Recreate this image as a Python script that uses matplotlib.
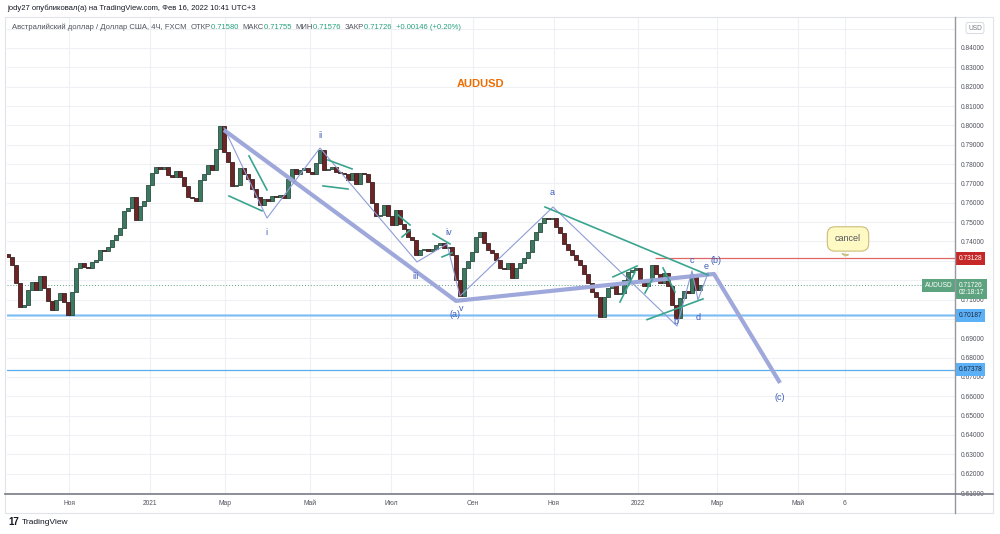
import numpy as np
import matplotlib
matplotlib.use('Agg')
import matplotlib.pyplot as plt
from matplotlib.patches import Rectangle
from matplotlib.lines import Line2D

plt.rcParams['font.family'] = ['Liberation Sans', 'DejaVu Sans']

# AUDUSD closes (one value per ~2 trading days, Oct 2020 .. Feb 16 2022)
first_open = 0.7335
close = [0.7320, 0.7279, 0.7186, 0.7062, 0.7072, 0.7149, 0.7191, 0.7149, 0.7222, 0.7160,
         0.7093, 0.7046, 0.7098, 0.7134, 0.7087, 0.7020, 0.7139, 0.7263, 0.7289, 0.7268,
         0.7263, 0.7294, 0.7304, 0.7356, 0.7351, 0.7372, 0.7408, 0.7434, 0.7470, 0.7558,
         0.7573, 0.7630, 0.7511, 0.7583, 0.7609, 0.7692, 0.7754, 0.7785, 0.7775, 0.7785,
         0.7744, 0.7733, 0.7764, 0.7733, 0.7687, 0.7630, 0.7625, 0.7609, 0.7718, 0.7749,
         0.7795, 0.7770, 0.7878, 0.7997, 0.7863, 0.7811, 0.7687, 0.7692, 0.7780, 0.7749,
         0.7723, 0.7671, 0.7630, 0.7589, 0.7620, 0.7609, 0.7635, 0.7630, 0.7640, 0.7625,
         0.7723, 0.7775, 0.7749, 0.7770, 0.7780, 0.7759, 0.7749, 0.7806, 0.7873, 0.7770,
         0.7775, 0.7785, 0.7759, 0.7754, 0.7749, 0.7718, 0.7754, 0.7697, 0.7754, 0.7749,
         0.7707, 0.7599, 0.7532, 0.7537, 0.7589, 0.7532, 0.7485, 0.7563, 0.7490, 0.7465,
         0.7423, 0.7408, 0.7330, 0.7356, 0.7361, 0.7351, 0.7361, 0.7382, 0.7392, 0.7366,
         0.7372, 0.7330, 0.7201, 0.7118, 0.7263, 0.7299, 0.7346, 0.7423, 0.7449, 0.7392,
         0.7356, 0.7341, 0.7304, 0.7263, 0.7258, 0.7289, 0.7211, 0.7263, 0.7289, 0.7315,
         0.7346, 0.7408, 0.7449, 0.7496, 0.7521, 0.7516, 0.7521, 0.7475, 0.7444, 0.7387,
         0.7356, 0.7330, 0.7304, 0.7279, 0.7232, 0.7186, 0.7139, 0.7113, 0.7010, 0.7113,
         0.7160, 0.7175, 0.7129, 0.7134, 0.7201, 0.7242, 0.7253, 0.7263, 0.7201, 0.7170,
         0.7206, 0.7279, 0.7232, 0.7186, 0.7237, 0.7170, 0.7072, 0.7005, 0.7108, 0.7144,
         0.7134, 0.7217, 0.7149, 0.71726]

month_pos = [15.25, 35.5, 54.25, 75.5, 95.75, 116.25, 136.5, 157.5, 177.25, 197.5, 209.25]
month_lbl = ['Ноя', '2021', 'Мар', 'Май', 'Июл', 'Сен', 'Ноя', '2022', 'Мар', 'Май', '6']

# Elliott wave drawings (bar index, price)
big_x = [54, 112, 176.5, 193]
big_y = [0.7976, 0.7093, 0.7232, 0.6669]
wave_x = [54, 64.75, 78, 102.25, 109.75, 113, 136.25, 167.25, 171, 172.5, 175]
wave_y = [0.7987, 0.7521, 0.7883, 0.7294, 0.7387, 0.7118, 0.7578, 0.6963, 0.7248, 0.7098, 0.7237]
teal_segs = [((55.25, 0.7635), (63.5, 0.7558)), ((60.25, 0.7842), (64.75, 0.7666)),
             ((80, 0.7821), (86, 0.7775)), ((78.75, 0.7687), (85, 0.7671)),
             ((97.5, 0.7537), (100.5, 0.7485)), ((98.5, 0.7423), (100.5, 0.7459)),
             ((106.25, 0.7439), (110.5, 0.7387)), ((108.5, 0.7320), (111, 0.7341)),
             ((134.25, 0.7578), (175, 0.7227)), ((159.75, 0.6996), (173.75, 0.7103)),
             ((151.25, 0.7217), (157.25, 0.7273)), ((153, 0.7087), (156.75, 0.7242)),
             ((159.25, 0.7134), (161, 0.7201)), ((163.75, 0.7263), (166.75, 0.7139))]
wave_labels = [('i', 64.5, 0.7444), ('ii', 78.25, 0.7950), ('iii', 102, 0.7217),
               ('iv', 110.25, 0.7444), ('v', 113.25, 0.7051), ('(a)', 111.75, 0.7020),
               ('a', 136, 0.7651), ('b', 167, 0.6986), ('c', 171, 0.7299),
               ('d', 172.5, 0.7005), ('e', 174.5, 0.7268), ('(b)', 177, 0.7299),
               ('(c)', 193, 0.6591)]

cancel_level = 0.73128
cancel_start = 161.75
support_1 = 0.70187
support_2 = 0.67378
last_price = 0.71726

price_ticks = np.arange(0.61, 0.855, 0.01)
covered = ['0.85000', '0.73000', '0.72000', '0.70000']  # sit under the price tags

fig = plt.figure(figsize=(10, 5.34), dpi=100)
ax = fig.add_axes([0.007, 1 - 493 / 534, 0.948, 476 / 534])
ax.set_xlim(-0.25, 236.75)
ax.set_ylim(0.6100, 0.8560)
for s in ax.spines.values():
    s.set_visible(False)

ax.set_yticks(price_ticks)
ax.set_yticklabels(['' if f'{v:.5f}' in covered else f'{v:.5f}' for v in price_ticks])
ax.yaxis.tick_right()
ax.tick_params(axis='y', length=0, pad=4, labelsize=4.8, labelcolor='#50535e')
ax.set_xticks(month_pos)
ax.set_xticklabels(month_lbl)
ax.tick_params(axis='x', length=0, pad=5, labelsize=4.8, labelcolor='#50535e')
ax.grid(True, color='#eef0f4', lw=0.8)
ax.set_axisbelow(True)

# candles
closes = np.array(close)
opens = np.r_[first_open, closes[:-1]]
idx = np.arange(len(closes))
up = closes >= opens
ax.bar(idx[up], (closes - opens)[up], bottom=opens[up], width=0.95,
       color='#3b7a60', edgecolor='#2c4f42', lw=0.6, zorder=2)
ax.bar(idx[~up], (closes - opens)[~up], bottom=opens[~up], width=0.95,
       color='#6e2424', edgecolor='#3a2222', lw=0.6, zorder=2)

# horizontal levels
ax.axhline(support_1, color='#9dcdf7', lw=1.8, zorder=1.5)
ax.axhline(support_1, color='#6fb6f2', lw=0.5, zorder=1.6)
ax.axhline(support_2, color='#5aaef0', lw=0.9, zorder=1.5)
ax.axhline(last_price, color='#5aa07e', lw=0.7, ls=(0, (1, 2)), zorder=1.5)
ax.hlines(cancel_level, cancel_start, 236.75, color='#e06666', lw=0.9, zorder=1.5)

# wave drawings
ax.plot(big_x, big_y, color='#9fa8da', lw=3, solid_capstyle='butt', zorder=3)
ax.plot(wave_x, wave_y, color='#8e9cd8', lw=0.8, zorder=3)
for (x0, y0), (x1, y1) in teal_segs:
    ax.plot([x0, x1], [y0, y1], color='#3aa58f', lw=1.2, zorder=3)
for t, x, y in wave_labels:
    ax.text(x, y, t, color='#3d5cb8', fontsize=6.5, ha='center', va='center', zorder=4)

ax.text(118.25, 0.8214, 'AUDUSD', color='#ef6c00', fontsize=8, fontweight='bold',
        ha='center', va='center')
ax.annotate('cancel', xy=(209.25, 0.7325), xytext=(210, 0.7413), fontsize=6.5,
            color='#50535e', ha='center', va='center',
            bbox=dict(boxstyle='round,pad=0.85', fc='#fff9c4', ec='#cbbd7c', lw=0.8),
            arrowprops=dict(arrowstyle='wedge,tail_width=0.7', fc='#fff9c4', ec='#cbbd7c', lw=0.8))

# price-axis labels
def price_tag(y, txt, fc, tc, dy=0):
    ax.annotate(txt, xy=(1, y), xycoords=('axes fraction', 'data'), xytext=(2.5, dy),
                textcoords='offset points', ha='left', va='center', fontsize=4.8,
                color=tc, linespacing=1.1, annotation_clip=False, zorder=6,
                bbox=dict(boxstyle='square,pad=0.45', fc=fc, ec='none'))

price_tag(cancel_level, '0.73128', '#c62828', 'white')
price_tag(last_price, '0.71726\n02:18:17', '#5ea37f', 'white', dy=-2.5)
price_tag(support_1, '0.70187', '#5cb0f5', '#1c2a44')
price_tag(support_2, '0.67378', '#5cb0f5', '#1c2a44')
ax.annotate('AUDUSD', xy=(1, last_price), xycoords=('axes fraction', 'data'), xytext=(-1.5, 0),
            textcoords='offset points', ha='right', va='center', fontsize=4.8, color='white',
            annotation_clip=False, zorder=6,
            bbox=dict(boxstyle='square,pad=0.45', fc='#5ea37f', ec='none'))
fig.text(0.975, 1 - 28 / 534, 'USD', fontsize=4.8, color='#787b86', ha='center', va='center',
         bbox=dict(boxstyle='round,pad=0.3', fc='white', ec='#d1d4dc', lw=0.6), zorder=7)

# frame
fig.patches.append(Rectangle((0.005, 1 - 513 / 534), 0.988, 496 / 534, transform=fig.transFigure,
                             fill=False, ec='#e0e3eb', lw=0.8))
fig.lines.append(Line2D([0.955, 0.955], [1 - 513 / 534, 1 - 17 / 534], transform=fig.transFigure,
                        color='#9598a1', lw=1))
fig.lines.append(Line2D([0.005, 0.993], [1 - 494 / 534, 1 - 494 / 534], transform=fig.transFigure,
                        color='#787b86', lw=1.2))

# header
fig.text(0.007, 1 - 8 / 534, 'jody27 опубликовал(а) на TradingView.com, Фев 16, 2022 10:41 UTC+3',
         fontsize=5.5, color='#131722', va='center')
segs = [('Австралийский доллар / Доллар США, 4Ч, FXCM  ', '#50535e'), ('ОТКР', '#50535e'),
        ('0.71580  ', '#26a17b'), ('МАКС', '#50535e'), ('0.71755  ', '#26a17b'),
        ('МИН', '#50535e'), ('0.71576  ', '#26a17b'), ('ЗАКР', '#50535e'),
        ('0.71726  ', '#26a17b'), ('+0.00146 (+0.20%)', '#26a17b')]
prev = fig.text(0.012, 1 - 27 / 534, segs[0][0], fontsize=5.5, color=segs[0][1], va='center')
for txt, col in segs[1:]:
    prev = ax.annotate(txt, xy=(1, 0), xycoords=prev, ha='left', va='bottom',
                       fontsize=5.5, color=col, annotation_clip=False)

fig.text(0.008, 1 - 522 / 534, '17', fontsize=7, fontweight='bold', color='#131722', va='center')
fig.text(0.022, 1 - 522 / 534, 'TradingView', fontsize=6, color='#131722', va='center')

fig.savefig('out.png', dpi=100, facecolor='white')
